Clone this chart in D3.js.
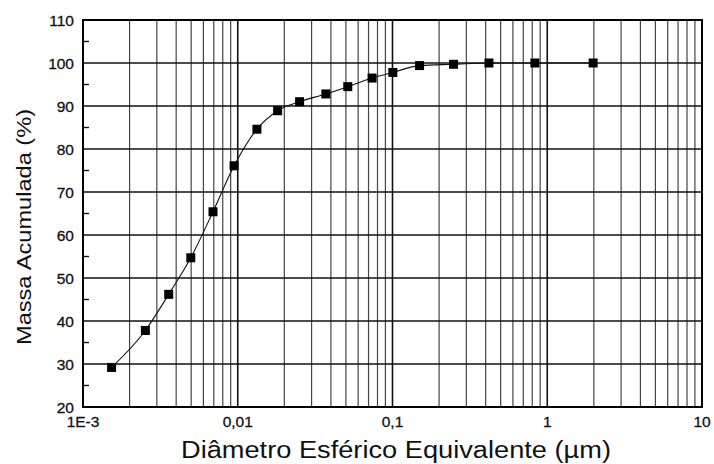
<!DOCTYPE html>
<html>
<head>
<meta charset="utf-8">
<script src="https://cdn.jsdelivr.net/npm/d3@7"></script>
<style>
  body { margin: 0; background: #fff; }
  svg { display: block; font-family: "Liberation Sans", Arial, sans-serif; }
</style>
</head>
<body>
<div id="chart"></div>
<script>
// data
const diameters = [0.00153, 0.00253, 0.00358, 0.00497, 0.00692, 0.00947, 0.0133, 0.0181,
  0.0251, 0.0371, 0.0514, 0.0738, 0.1005, 0.1496, 0.248, 0.42, 0.832, 1.98];
const massValues = [29.2, 37.8, 46.2, 54.7, 65.4, 76.1, 84.6, 88.9,
  91.0, 92.8, 94.5, 96.5, 97.8, 99.4, 99.7, 100, 100, 100];
const xTickValues = [0.001, 0.01, 0.1, 1, 10];
const xTickLabels = ["1E-3", "0,01", "0,1", "1", "10"];
const yTickValues = [20, 30, 40, 50, 60, 70, 80, 90, 100, 110];

const width = 714, height = 464;
const margin = { top: 20, right: 12, bottom: 57, left: 83 };

const svg = d3.select("#chart").append("svg")
  .attr("width", width)
  .attr("height", height);

const x = d3.scaleLog()
  .domain([0.001, 10])
  .range([margin.left, width - margin.right]);

const y = d3.scaleLinear()
  .domain([20, 110])
  .range([height - margin.bottom, margin.top]);

// vertical gridlines at every 1..9 x 10^n
const gridX = [];
for (let e = -3; e < 1; e++) {
  for (let m = 1; m < 10; m++) gridX.push(m * Math.pow(10, e));
}
const isDecade = (d) => xTickValues.includes(+d.toPrecision(3));

svg.append("g")
  .selectAll("line")
  .data(gridX.filter((d) => d > 0.001))
  .join("line")
  .attr("x1", (d) => x(d))
  .attr("x2", (d) => x(d))
  .attr("y1", y(110))
  .attr("y2", y(20))
  .attr("stroke", (d) => (isDecade(d) ? "#111" : "#444"))
  .attr("stroke-width", (d) => (isDecade(d) ? 1.6 : 1.2));

// horizontal gridlines
svg.append("g")
  .selectAll("line")
  .data(yTickValues)
  .join("line")
  .attr("x1", x(0.001))
  .attr("x2", x(10))
  .attr("y1", (d) => y(d))
  .attr("y2", (d) => y(d))
  .attr("stroke", "#111")
  .attr("stroke-width", 1.4);

// minor y ticks (inside, left)
svg.append("g")
  .selectAll("line")
  .data(d3.range(25, 110, 10))
  .join("line")
  .attr("x1", x(0.001))
  .attr("x2", x(0.001) + 6)
  .attr("y1", (d) => y(d))
  .attr("y2", (d) => y(d))
  .attr("stroke", "#111")
  .attr("stroke-width", 1.4);

// frame
svg.append("rect")
  .attr("x", x(0.001))
  .attr("y", y(110))
  .attr("width", x(10) - x(0.001))
  .attr("height", y(20) - y(110))
  .attr("fill", "none")
  .attr("stroke", "#000")
  .attr("stroke-width", 2);

// axis tick labels
svg.append("g")
  .selectAll("text")
  .data(yTickValues)
  .join("text")
  .attr("x", x(0.001) - 9)
  .attr("y", (d) => y(d) + 5.5)
  .attr("text-anchor", "end")
  .attr("font-size", 15.5)
  .attr("fill", "#111")
  .attr("stroke", "#111")
  .attr("stroke-width", 0.3)
  .text((d) => d);

svg.append("g")
  .selectAll("text")
  .data(xTickValues)
  .join("text")
  .attr("x", (d) => x(d))
  .attr("y", y(20) + 20)
  .attr("text-anchor", "middle")
  .attr("font-size", 15.5)
  .attr("fill", "#111")
  .attr("stroke", "#111")
  .attr("stroke-width", 0.3)
  .text((d, i) => xTickLabels[i]);

// axis titles
svg.append("text")
  .attr("x", 396)
  .attr("y", 458)
  .attr("text-anchor", "middle")
  .attr("font-size", 23)
  .attr("textLength", 430)
  .attr("lengthAdjust", "spacingAndGlyphs")
  .attr("fill", "#111")
  .text("Diâmetro Esférico Equivalente (µm)");

svg.append("text")
  .attr("transform", "translate(31,227) rotate(-90)")
  .attr("text-anchor", "middle")
  .attr("font-size", 21)
  .attr("textLength", 236)
  .attr("lengthAdjust", "spacingAndGlyphs")
  .attr("fill", "#111")
  .text("Massa Acumulada (%)");

// curve + markers
const points = diameters.map((d, i) => [d, massValues[i]]);

svg.append("path")
  .datum(points)
  .attr("fill", "none")
  .attr("stroke", "#111")
  .attr("stroke-width", 1.1)
  .attr("d", d3.line()
    .x((d) => x(d[0]))
    .y((d) => y(d[1]))
    .curve(d3.curveMonotoneX));

const s = 9;
svg.append("g")
  .selectAll("rect")
  .data(points)
  .join("rect")
  .attr("x", (d) => x(d[0]) - s / 2)
  .attr("y", (d) => y(d[1]) - s / 2)
  .attr("width", s)
  .attr("height", s)
  .attr("fill", "#000");
</script>
</body>
</html>
